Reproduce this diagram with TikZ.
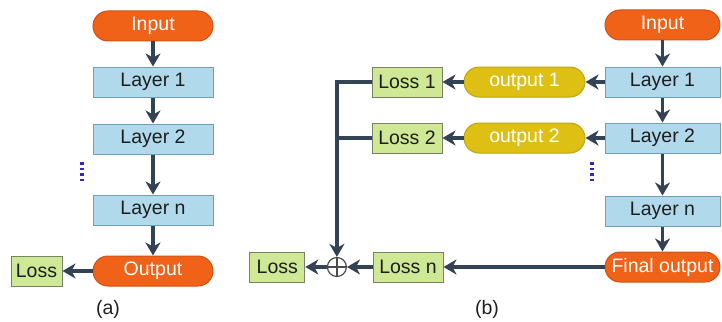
\documentclass[tikz,border=0pt]{standalone}
\usepackage{fontspec}
\setmainfont{Liberation Sans}
\usetikzlibrary{positioning, arrows.meta}

\begin{document}
\begin{tikzpicture}[x=1pt, y=1pt, font=\fontsize{19.5}{22}\selectfont,
  >={Stealth[length=13pt, width=15pt, inset=4pt]},
  ends/.style={draw=endline, fill=endfill, text=white, rounded corners=15pt, minimum height=30pt, inner sep=0pt, line width=1pt},
  layer/.style={draw=layline, fill=layfill, text=textc, minimum height=30pt, inner sep=0pt, line width=1pt},
  lossbox/.style={draw=lossline, fill=lossfill, text=textc, minimum height=30pt, inner sep=0pt, line width=1pt},
  side/.style={draw=sideline, fill=sidefill, text=white, rounded corners=15pt, minimum height=30pt, minimum width=121pt, inner sep=0pt, line width=1pt},
  sum/.style={circle, draw=textc!80, line width=1.2pt, minimum size=19pt, inner sep=0pt,
    path picture={\draw[textc!80, line width=1.2pt] (path picture bounding box.north) -- (path picture bounding box.south)
      (path picture bounding box.west) -- (path picture bounding box.east);}},
  arr/.style={->, draw=arrowc, line width=3.2pt},
  link/.style={draw=arrowc, line width=3.2pt},
  vdots/.style={draw=dotc, line width=3.5pt, dash pattern=on 2.5pt off 3pt}]
  \definecolor{endfill}{RGB}{240,98,24}
  \definecolor{endline}{RGB}{210,80,20}
  \definecolor{layfill}{RGB}{176,218,236}
  \definecolor{layline}{RGB}{110,160,190}
  \definecolor{lossfill}{RGB}{206,232,150}
  \definecolor{lossline}{RGB}{120,130,100}
  \definecolor{sidefill}{RGB}{222,192,20}
  \definecolor{sideline}{RGB}{190,165,20}
  \definecolor{arrowc}{RGB}{52,66,86}
  \definecolor{textc}{RGB}{30,30,30}
  \definecolor{dotc}{RGB}{50,40,190}
  \useasboundingbox (0,0) rectangle (722,-321);

  % (a)
  \node[ends, minimum width=120pt] (inA) at (153,-26) {Input};
  \node[layer, minimum width=120pt, below=25pt of inA] (l1A) {Layer 1};
  \node[layer, minimum width=120pt, below=26pt of l1A] (l2A) {Layer 2};
  \node[layer, minimum width=120pt, below=40pt of l2A] (lnA) {Layer n};
  \node[ends, minimum width=120pt, below=30pt of lnA] (outA) {Output};
  \node[lossbox, minimum width=51pt, left=30pt of outA] (lossA) {Loss};
  \draw[arr] (inA) -- (l1A);
  \draw[arr] (l1A) -- (l2A);
  \draw[arr] (l2A) -- (lnA);
  \draw[arr] (lnA) -- (outA);
  \draw[arr] (outA) -- (lossA);
  \draw[vdots] (82,-162) -- (82,-183);
  \node[text=textc] (capA) at (108,-309) {(a)};

  % (b)
  \node[ends, minimum width=115pt] (inB) at (662.5,-25) {Input};
  \node[layer, minimum width=115pt, below=26pt of inB] (l1B) {Layer 1};
  \node[layer, minimum width=115pt, below=25pt of l1B] (l2B) {Layer 2};
  \node[layer, minimum width=115pt, below=42pt of l2B] (lnB) {Layer n};
  \node[ends, minimum width=115pt, below=25pt of lnB] (finB) {Final output};
  \node[side, left=19pt of l1B] (o1B) {output 1};
  \node[side, left=19pt of l2B] (o2B) {output 2};
  \node[lossbox, minimum width=70pt, left=21pt of o1B] (loss1) {Loss 1};
  \node[lossbox, minimum width=70pt, left=21pt of o2B] (loss2) {Loss 2};
  \node[lossbox, minimum width=70pt, left=161pt of finB] (lossn) {Loss n};
  \node[sum, left=25.5pt of lossn] (total) {};
  \node[lossbox, minimum width=55pt, left=21.5pt of total] (lossB) {Loss};
  \draw[arr] (inB) -- (l1B);
  \draw[arr] (l1B) -- (l2B);
  \draw[arr] (l2B) -- (lnB);
  \draw[arr] (lnB) -- (finB);
  \draw[arr] (l1B) -- (o1B);
  \draw[arr] (l2B) -- (o2B);
  \draw[arr] (o1B) -- (loss1);
  \draw[arr] (o2B) -- (loss2);
  \draw[arr] (finB) -- (lossn);
  \draw[arr] (lossn) -- (total);
  \draw[arr] (total) -- (lossB);
  \draw[arr] (loss1.west) -| (total.north);
  \draw[link] (loss2.west) -- (loss2.west -| total.north);
  \draw[vdots] (592,-162) -- (592,-183);
  \node[text=textc] (capB) at (487,-309) {(b)};
\end{tikzpicture}
\end{document}
